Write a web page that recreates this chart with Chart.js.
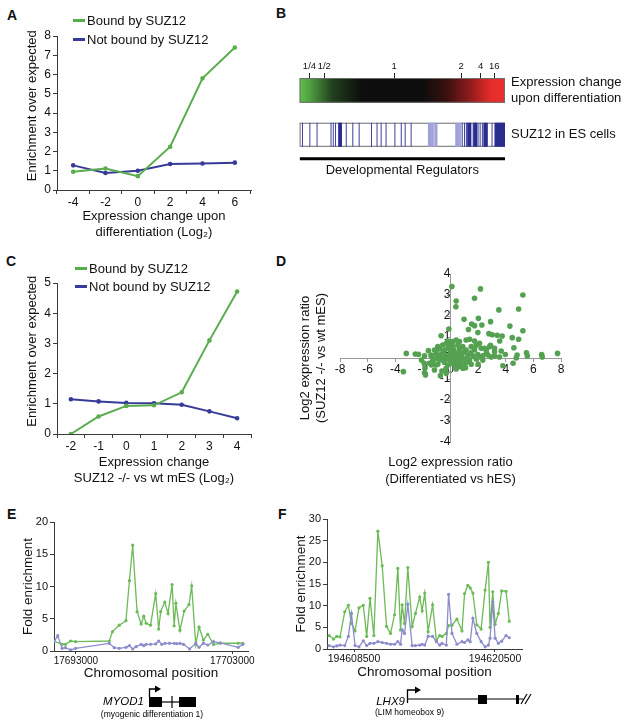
<!DOCTYPE html>
<html>
<head>
<meta charset="utf-8">
<script src="https://cdn.jsdelivr.net/npm/chart.js@4.4.1/dist/chart.umd.min.js"></script>
<style>
  body { margin: 0; background: #fff; width: 629px; height: 725px; position: relative; overflow: hidden;
         font-family: "Liberation Sans", Arial, Helvetica, sans-serif; color: #111; }
  canvas, .abs { position: absolute; }
  .lbl { position: absolute; font-weight: bold; font-size: 14px; line-height: 14px; }
  .leg { position: absolute; font-size: 13px; line-height: 16px; white-space: nowrap; }
  .leg i { display: inline-block; width: 12px; height: 3px; vertical-align: middle; margin-right: 2px; position: relative; top: -1px; }
</style>
</head>
<body>
<div class="lbl" style="left:7px;top:8px">A</div>
<div class="lbl" style="left:276px;top:6px">B</div>
<div class="lbl" style="left:6px;top:254px">C</div>
<div class="lbl" style="left:276px;top:254px">D</div>
<div class="lbl" style="left:7px;top:507px">E</div>
<div class="lbl" style="left:278px;top:507px">F</div>

<canvas id="chartA" width="262" height="250" style="left:0;top:0"></canvas>
<canvas id="chartB" width="344" height="150" style="left:285px;top:40px"></canvas>
<canvas id="chartC" width="262" height="235" style="left:0;top:255px"></canvas>
<canvas id="chartD" width="334" height="235" style="left:295px;top:260px"></canvas>
<canvas id="chartE" width="262" height="190" style="left:0;top:495px"></canvas>
<canvas id="chartF" width="344" height="190" style="left:285px;top:495px"></canvas>

<div class="leg" style="left:73px;top:13px"><i style="background:#5aad4e"></i>Bound by SUZ12</div>
<div class="leg" style="left:73px;top:32px"><i style="background:#373b98"></i>Not bound by SUZ12</div>
<div class="leg" style="left:75px;top:261px"><i style="background:#5aad4e"></i>Bound by SUZ12</div>
<div class="leg" style="left:75px;top:279px"><i style="background:#373b98"></i>Not bound by SUZ12</div>

<svg class="abs" style="left:0;top:680px" width="629" height="45">
  <text x="144" y="25" text-anchor="end" font-style="italic" font-size="11.5">MYOD1</text>
  <path d="M149.5 17 V9 H156" stroke="#000" stroke-width="1.3" fill="none"/>
  <polygon points="155,5.5 161,9 155,12.5"/>
  <rect x="149" y="17" width="13" height="10"/>
  <line x1="162" y1="22" x2="179" y2="22" stroke="#000" stroke-width="1.2"/>
  <line x1="172" y1="16" x2="172" y2="28" stroke="#000" stroke-width="1.2"/>
  <rect x="179" y="17" width="17" height="10"/>
  <text x="152" y="37" text-anchor="middle" font-size="8.5">(myogenic differentiation 1)</text>

  <text x="405" y="25" text-anchor="end" font-style="italic" font-size="11.5">LHX9</text>
  <path d="M407.5 23 V10 H416" stroke="#000" stroke-width="1.3" fill="none"/>
  <polygon points="415,6.5 421,10 415,13.5"/>
  <line x1="407" y1="19" x2="523" y2="19" stroke="#000" stroke-width="1.2"/>
  <rect x="478" y="15" width="9" height="9"/>
  <rect x="516" y="15" width="3" height="9"/>
  <line x1="521" y1="24" x2="527" y2="14" stroke="#000" stroke-width="1.2"/>
  <line x1="525" y1="24" x2="531" y2="14" stroke="#000" stroke-width="1.2"/>
  <text x="375" y="35" font-size="8.5">(LIM homeobox 9)</text>
</svg>

<script>
// A: enrichment vs expression change upon differentiation
const aLabels = ['-4', '-2', '0', '2', '4', '6'];
const aBound = [0.95, 1.12, 0.72, 2.25, 5.8, 7.4];
const aNotBound = [1.28, 0.88, 1.0, 1.35, 1.38, 1.42];

// B: colour bar ticks and SUZ12 bound genes along the ranked list (0-100)
const bTickPos = [4.8, 12.0, 46, 78.7, 88.1, 94.8];
const bTickLabels = ['1/4', '1/2', '1', '2', '4', '16'];
const bSuzPos = [1.4, 5.0, 8.5, 15.3, 16.4, 17.5, 19.4, 20.0, 22.7, 25.9, 29.0, 35.0, 37.7, 39.7, 42.1,
  46.4, 49.5, 51.4, 54.3, 63.0, 63.9, 64.8, 66.1, 66.6, 76.3, 77.1, 78.2, 79.2, 80.3, 81.2, 82.2, 83.0,
  84.5, 85.2, 85.9, 86.9, 87.9, 89.0, 90.1, 91.0, 93.7, 95.5, 96.5, 97.5, 98.5, 99.4];
const bSuzShade = ['m', 'm', 'm', 'm', 'm', 'm', 'd', 'd', 'm', 'm', 'm', 'm', 'm', 'm', 'm',
  'm', 'm', 'm', 'm', 'l', 'l', 'l', 'l', 'l', 'l', 'l', 'l', 'm', 'm', 'm', 'd', 'd',
  'm', 'd', 'd', 'm', 'm', 'm', 'd', 'd', 'm', 'd', 'd', 'd', 'd', 'd'];
const bRowLabels = [['Expression change', 'upon differentiation'], 'SUZ12 in ES cells'];

// C: enrichment vs expression change in SUZ12 -/-
const cLabels = ['-2', '-1', '0', '1', '2', '3', '4'];
const cBound = [0.0, 0.58, 0.93, 0.95, 1.38, 3.1, 4.72];
const cNotBound = [1.15, 1.08, 1.03, 1.02, 0.97, 0.75, 0.52];

// D: log2 ratio (differentiated vs hES) against log2 ratio (SUZ12 -/- vs wt mES)
const dPoints = [
  [0.10, 3.40], [2.17, 3.29], [1.74, 2.84], [5.24, 3.00], [0.41, 2.71], [0.39, 2.44], [3.50, 2.29],
  [4.93, 2.33], [0.98, 1.84], [2.02, 1.89], [-0.12, 1.38], [1.53, 1.62], [1.74, 1.54], [2.27, 1.57],
  [1.30, 1.36], [1.98, 1.21], [2.90, 1.73], [4.30, 1.52], [5.24, 1.30], [-0.68, 1.06], [2.78, 1.16],
  [3.02, 1.11], [3.38, 1.08], [3.74, 1.05], [4.47, 0.97], [4.93, 0.89], [3.56, 0.81], [4.59, 0.49],
  [5.50, 0.25], [6.60, 0.17], [7.75, 0.22], [3.97, 0.17], [4.82, 0.14], [4.53, -0.25], [-3.20, 0.22],
  [-2.55, 0.19], [-3.41, -0.65], [-1.88, 0.10], [-1.90, -0.25], [-1.85, -0.49], [-1.88, -0.70],
  [-0.62, -0.62], [-0.73, -0.84], [-1.38, -0.33], [0.92, -0.33], [0.46, -0.25], [-2.32, 0.18],
  [-1.40, 0.10], [-1.81, -0.81], [-1.16, -0.57], [-1.04, -0.33], [-0.31, -0.73], [0.65, -0.41],
  [1.09, -0.46], [3.79, -0.37], [5.56, 0.10], [6.64, 0.05], [3.55, 0.05], [4.76, 0.00], [2.95, 0.05],
  [-0.19, 0.81], [0.17, 0.78], [0.41, 0.86], [0.65, 0.78], [1.13, 0.86], [1.38, 0.89], [1.74, 0.81],
  [2.10, 0.70], [-0.92, 0.54], [-0.56, 0.62], [-0.07, 0.62], [0.17, 0.54], [0.53, 0.62], [0.89, 0.54],
  [1.50, 0.54], [1.86, 0.59], [2.46, 0.46], [2.83, 0.54], [3.19, 0.46], [-1.16, 0.38], [-0.80, 0.43],
  [-0.43, 0.38], [-0.19, 0.46], [0.24, 0.38], [0.65, 0.43], [1.13, 0.38], [1.74, 0.38], [2.22, 0.46],
  [2.59, 0.38], [3.19, 0.30], [3.67, 0.33], [-1.40, 0.14], [-1.04, 0.22], [-0.68, 0.17], [-0.31, 0.11],
  [0.05, 0.22], [0.41, 0.14], [0.77, 0.11], [1.26, 0.14], [1.62, 0.11], [1.98, 0.17], [2.34, 0.11],
  [2.71, 0.14], [3.19, 0.11], [-1.16, -0.05], [-0.80, -0.10], [-0.43, -0.02], [-0.07, -0.10],
  [0.29, -0.05], [0.65, -0.10], [1.01, -0.05], [1.38, -0.10], [1.86, -0.05], [2.34, -0.10],
  [-1.52, -0.25], [-0.92, -0.30], [-0.19, -0.33], [0.17, -0.27], [0.77, -0.25], [1.50, -0.30],
  [-0.31, -0.49], [0.41, -0.52], [0.89, -0.49], [0.00, 0.30], [0.30, 0.25], [-0.50, 0.25], [0.60, 0.25],
  [1.00, 0.30], [-0.20, 0.00], [0.50, 0.00], [1.20, 0.00], [0.10, 0.50], [-0.30, 0.70], [2.60, 0.25],
  [-0.60, 0.05], [-0.95, 0.10], [0.20, 0.05], [0.85, 0.20], [1.45, 0.25], [2.05, 0.05], [-1.30, -0.15],
  [-0.45, -0.20], [0.35, -0.40], [1.15, -0.20], [-2.10, -0.10], [-1.60, 0.35], [2.00, -0.30], [2.90, 0.60]
];

// E: MYOD1 locus
const eTicks = [17693000, 17703000];
const eGreenPos = [17691600, 17692120, 17692330, 17692660, 17692980, 17695130, 17695340, 17695770,
  17696200, 17696420, 17696630, 17696910, 17697170, 17697340, 17697490, 17697770, 17698100, 17698290,
  17698420, 17698680, 17698890, 17699150, 17699280, 17699390, 17699650, 17699920, 17700230, 17700400,
  17700660, 17700870, 17701150, 17701430, 17701800, 17702230, 17703370, 17703670];
const eGreen = [1.55, 1.03, 1.03, 1.55, 1.45, 1.55, 3.0, 4.0, 4.7, 10.9, 16.4, 6.1, 4.2, 5.4, 4.3, 4.0,
  8.9, 3.4, 6.1, 7.6, 5.8, 10.3, 3.9, 7.4, 3.2, 6.2, 7.2, 10.1, 0.95, 3.7, 1.7, 2.6, 1.0, 1.2, 1.2, 1.2];
const eBluePos = [17691600, 17691840, 17692120, 17692330, 17692660, 17692980, 17695130, 17695450,
  17695770, 17696200, 17696420, 17696630, 17696850, 17697170, 17697340, 17697490, 17697770, 17698100,
  17698290, 17698490, 17698700, 17698980, 17699280, 17699450, 17699660, 17699880, 17700270, 17700660,
  17700870, 17701150, 17701430, 17701800, 17702230, 17703370, 17703670];
const eBlue = [1.45, 2.38, 0.41, 0.52, 0.16, 0.41, 1.19, 0.52, 0.41, 0.57, 0.83, 0.31, 0.67, 1.03, 0.83,
  1.03, 1.03, 1.09, 1.55, 1.03, 1.19, 1.19, 1.19, 1.14, 1.19, 1.03, 0.31, 1.19, 0.57, 1.19, 0.93, 1.45,
  1.25, 0.57, 1.03];

// F: LHX9 locus
const fTicks = [194608500, 194620500];
const fPos = [194606380, 194606750, 194607030, 194607310, 194607710, 194608020, 194608280, 194608590,
  194608920, 194609290, 194609580, 194609860, 194610190, 194610530, 194610900, 194611270, 194611610,
  194611950, 194612230, 194612460, 194612600, 194612800, 194613080, 194613450, 194613730, 194614090,
  194614300, 194614520, 194614810, 194615190, 194615510, 194615790, 194615990, 194616360, 194616550,
  194616840, 194617260, 194617690, 194617910, 194618190, 194618390, 194618620, 194618950, 194619320,
  194619660, 194619940, 194620080, 194620310, 194620510, 194620790, 194621070, 194621440, 194621720];
const fGreen = [3.1, 2.3, 2.9, 2.8, 8.6, 10.1, 5.9, 4.2, 9.5, 10.1, 2.9, 11.7, 3.1, 27.2, 19.2, 5.2, 3.6,
  7.9, 18.6, 4.4, 10.2, 5.9, 18.8, 5.2, 8.2, 12.0, 8.8, 12.9, 4.0, 10.2, 2.0, 3.1, 2.9, 3.6, 5.4, 5.5,
  6.9, 4.2, 12.8, 14.7, 14.1, 12.9, 5.6, 4.6, 13.6, 20.0, 5.0, 13.2, 5.7, 8.2, 13.4, 13.3, 6.4];
const fBlue = [0.8, 0.5, 0.7, 0.9, 0.8, 2.9, 8.2, 0.8, 0.5, 1.9, 0.8, 1.3, 1.3, 1.7, 1.5, 1.3, 1.1, 1.1,
  1.7, 1.1, 4.4, 3.6, 10.3, 0.8, 0.8, 0.9, 1.1, 0.9, 2.9, 2.9, 1.7, 0.9, 1.3, 0.9, 12.6, 3.6, 1.1, 1.7,
  1.5, 2.1, 1.7, 7.1, 3.6, 1.7, 0.5, 0.9, 2.5, 10.9, 2.5, 1.3, 1.8, 3.1, 2.6];

const GREEN = '#5aad4e';
const BLUE = '#373b98';
const GREEN_LIGHT = '#6cba58';
const BLUE_LIGHT = '#8a8ccc';
const AXIS = '#3a3a3a';
const SHADES = { m: ['#3d41a0', 1], l: ['#9ea2d6', 2.2], d: ['#2a2d8e', 2.6] };
const GRADIENT = [[0, '#62c04e'], [0.05, '#4f9f3f'], [0.16, '#22401e'], [0.3, '#0d0d0d'], [0.6, '#0d0d0d'],
  [0.72, '#3c1010'], [0.83, '#901c1c'], [0.9, '#cc2626'], [0.935, '#e62d2b'], [1, '#e83030']];

Chart.defaults.font.family = '"Liberation Sans", Arial, Helvetica, sans-serif';
Chart.defaults.color = '#111';
Chart.defaults.animation = false;
Chart.defaults.plugins.legend.display = false;
Chart.defaults.plugins.tooltip.enabled = false;

function leftTitle(text, size, pad) {
  return { display: true, text, font: { size }, padding: { top: pad, bottom: 0 } };
}

function axisGrid(len) {
  return { drawOnChartArea: false, tickLength: len, color: AXIS };
}

function enrichmentChart(id, labels, bound, notBound, ymax, padTop, xTitle, xHeight, titlePad) {
  return new Chart(document.getElementById(id), {
    type: 'line',
    data: {
      labels,
      datasets: [
        { data: bound, borderColor: GREEN, backgroundColor: GREEN, borderWidth: 2,
          pointRadius: 1.3, tension: 0 },
        { data: notBound, borderColor: BLUE, backgroundColor: BLUE, borderWidth: 2,
          pointRadius: 1.3, tension: 0 },
      ],
    },
    options: {
      responsive: false,
      layout: { padding: { left: 0, top: padTop, right: 11, bottom: 0 } },
      scales: {
        x: {
          offset: true,
          grid: { ...axisGrid(4), offset: true },
          border: { color: AXIS },
          ticks: { font: { size: 12 }, padding: 1, maxRotation: 0 },
          title: { display: true, text: xTitle, font: { size: 13, lineHeight: 1.25 },
            padding: { top: 0, bottom: titlePad } },
          afterFit: (s) => { s.height = xHeight; },
        },
        y: {
          min: 0, max: ymax,
          ticks: { stepSize: 1, font: { size: 12 }, padding: 2 },
          grid: axisGrid(4),
          border: { color: AXIS },
          title: leftTitle('\u00a0\u00a0\u00a0\u00a0Enrichment over expected', 13, 25),
          afterFit: (s) => { s.width = 57; },
        },
      },
    },
  });
}

enrichmentChart('chartA', aLabels, aBound, aNotBound, 8, 36,
  ['Expression change upon', 'differentiation (Log\u2082)'], 60, 9);
enrichmentChart('chartC', cLabels, cBound, cNotBound, 5, 28,
  ['Expression change', 'SUZ12 -/- vs wt mES (Log\u2082)'], 56, 3);

// B: gradient bar and barcode frame drawn on the chart's own scales
const bGradTop = 10, bGradBottom = 6.4, bCodeTop = 3.5, bCodeMid = 1.75, bRuleY = -1.74;
const colorBar = {
  id: 'colorBar',
  beforeDatasetsDraw(chart) {
    const { ctx, scales: { x, y } } = chart;
    const l = x.getPixelForValue(0), r = x.getPixelForValue(100);
    const t = y.getPixelForValue(bGradTop), b = y.getPixelForValue(bGradBottom);
    const g = ctx.createLinearGradient(l, 0, r, 0);
    GRADIENT.forEach(([p, c]) => g.addColorStop(p, c));
    ctx.save();
    ctx.fillStyle = g;
    ctx.fillRect(l, t, r - l, b - t);
    ctx.strokeStyle = '#6d6d6d';
    ctx.lineWidth = 1;
    ctx.strokeRect(l + 0.5, t + 0.5, r - l - 1, b - t - 1);
    const t2 = y.getPixelForValue(bCodeTop), b2 = y.getPixelForValue(0);
    ctx.strokeRect(l + 0.5, t2 + 0.5, r - l - 1, b2 - t2 - 1);
    ctx.restore();
  },
};

new Chart(document.getElementById('chartB'), {
  type: 'scatter',
  data: {
    datasets: [
      {
        data: bSuzPos.map((p) => ({ x: p, y: bCodeMid })),
        pointStyle: 'line',
        pointRotation: 90,
        pointRadius: 12,
        pointBorderColor: bSuzShade.map((s) => SHADES[s][0]),
        pointBorderWidth: bSuzShade.map((s) => SHADES[s][1]),
      },
      {
        data: [{ x: 0, y: bRuleY }, { x: 100, y: bRuleY }],
        showLine: true, borderColor: '#000', borderWidth: 3, pointRadius: 0,
      },
    ],
  },
  options: {
    responsive: false,
    layout: { padding: { left: 9, top: 18, right: 0, bottom: 12 } },
    scales: {
      x: {
        type: 'linear', min: 0, max: 100, position: 'bottom',
        ticks: { display: false }, grid: { display: false }, border: { display: false },
        title: { display: true, text: 'Developmental Regulators', font: { size: 13 }, padding: 0 },
        afterFit: (s) => { s.height = 14; },
      },
      xTop: {
        type: 'linear', axis: 'x', min: 0, max: 100, position: 'top',
        afterBuildTicks: (s) => { s.ticks = bTickPos.map((v) => ({ value: v })); },
        ticks: { callback: (v, i) => bTickLabels[i], font: { size: 9.5 }, padding: 1, autoSkip: false, maxRotation: 0 },
        grid: { drawOnChartArea: false, tickLength: 5, color: '#222' },
        border: { display: false },
        afterFit: (s) => { s.height = 20; },
      },
      y: { type: 'linear', min: -2.5, max: 10, display: false },
      yRight: {
        type: 'linear', axis: 'y', min: -2.5, max: 10, position: 'right',
        afterBuildTicks: (s) => { s.ticks = [(bGradTop + bGradBottom) / 2, bCodeMid].map((v) => ({ value: v })); },
        ticks: { callback: (v, i) => bRowLabels[i], font: { size: 13, lineHeight: 1.23 }, padding: 6, autoSkip: false },
        grid: { display: false, drawTicks: false },
        border: { display: false },
        afterFit: (s) => { s.width = 124; },
      },
    },
  },
  plugins: [colorBar],
});

// D: scatter with axes crossing at the origin
new Chart(document.getElementById('chartD'), {
  type: 'scatter',
  data: {
    datasets: [{
      data: dPoints.map(([x, y]) => ({ x, y })),
      backgroundColor: '#54a151', borderWidth: 0, pointRadius: 2.8,
    }],
  },
  options: {
    responsive: false,
    layout: { padding: { left: 0, top: 14, right: 68, bottom: 0 } },
    scales: {
      x: {
        type: 'linear', position: { y: 0 }, min: -8, max: 8,
        ticks: { stepSize: 2, font: { size: 12 }, padding: 1 },
        grid: { drawOnChartArea: false, tickLength: 3, color: '#999' },
        border: { color: '#999' },
      },
      y: {
        type: 'linear', position: { x: 0 }, min: -4, max: 4,
        ticks: { stepSize: 1, font: { size: 12 }, padding: 1 },
        grid: { drawOnChartArea: false, tickLength: 3, color: '#999' },
        border: { color: '#999' },
      },
      yTitle: {
        type: 'linear', axis: 'y', position: 'left',
        ticks: { display: false }, grid: { display: false }, border: { display: false },
        title: { display: true, text: ['Log2 expression ratio', '(SUZ12 -/- vs wt mES)'],
          font: { size: 13, lineHeight: 1.23 }, padding: { top: 2, bottom: 0 } },
        afterFit: (s) => { s.width = 45; },
      },
      xTitle: {
        type: 'linear', axis: 'x', position: 'bottom',
        ticks: { display: false }, grid: { display: false }, border: { display: false },
        title: { display: true, text: ['Log2 expression ratio', '(Differentiated vs hES)'],
          font: { size: 13, lineHeight: 1.3 }, padding: { top: 0, bottom: 7 } },
        afterFit: (s) => { s.height = 53; },
      },
    },
  },
});

// E and F: ChIP enrichment along the locus
function locusChart(id, greenPts, bluePts, xmin, xmax, ticks, ymax, layoutPad, yWidth, yPad, xHeight, titlePad, tickSize) {
  return new Chart(document.getElementById(id), {
    type: 'scatter',
    data: {
      datasets: [
        { data: bluePts, showLine: true, borderColor: BLUE_LIGHT, backgroundColor: BLUE_LIGHT,
          borderWidth: 1.3, pointRadius: 1.6, pointBorderWidth: 0 },
        { data: greenPts, showLine: true, borderColor: GREEN_LIGHT, backgroundColor: GREEN_LIGHT,
          borderWidth: 1.3, pointRadius: 1.6, pointBorderWidth: 0 },
      ],
    },
    options: {
      responsive: false,
      layout: { padding: layoutPad },
      scales: {
        x: {
          type: 'linear', min: xmin, max: xmax,
          afterBuildTicks: (s) => { s.ticks = ticks.map((v) => ({ value: v })); },
          ticks: { callback: (v) => String(v), font: { size: tickSize }, padding: 1, autoSkip: false, maxRotation: 0 },
          grid: axisGrid(3),
          border: { color: AXIS },
          title: { display: true, text: 'Chromosomal position', font: { size: 13.5 },
            padding: { top: 0, bottom: titlePad } },
          afterFit: (s) => { s.height = xHeight; },
        },
        y: {
          min: 0, max: ymax,
          ticks: { stepSize: 5, font: { size: 11 }, padding: 2 },
          grid: axisGrid(4),
          border: { color: AXIS },
          title: leftTitle('Fold enrichment', 13.5, yPad),
          afterFit: (s) => { s.width = yWidth; },
        },
      },
    },
  });
}

const toPts = (xs, ys) => xs.map((x, i) => ({ x, y: ys[i] }));

locusChart('chartE', toPts(eGreenPos, eGreen), toPts(eBluePos, eBlue), 17691600, 17704000, eTicks, 20,
  { left: 0, top: 27, right: 14, bottom: 0 }, 54, 20, 34, 4, 10);
locusChart('chartF', toPts(fPos, fGreen), toPts(fPos, fBlue), 194606200, 194622800, fTicks, 30,
  { left: 0, top: 24, right: 107, bottom: 0 }, 42, 8, 36, 5, 10.5);
</script>
</body>
</html>
